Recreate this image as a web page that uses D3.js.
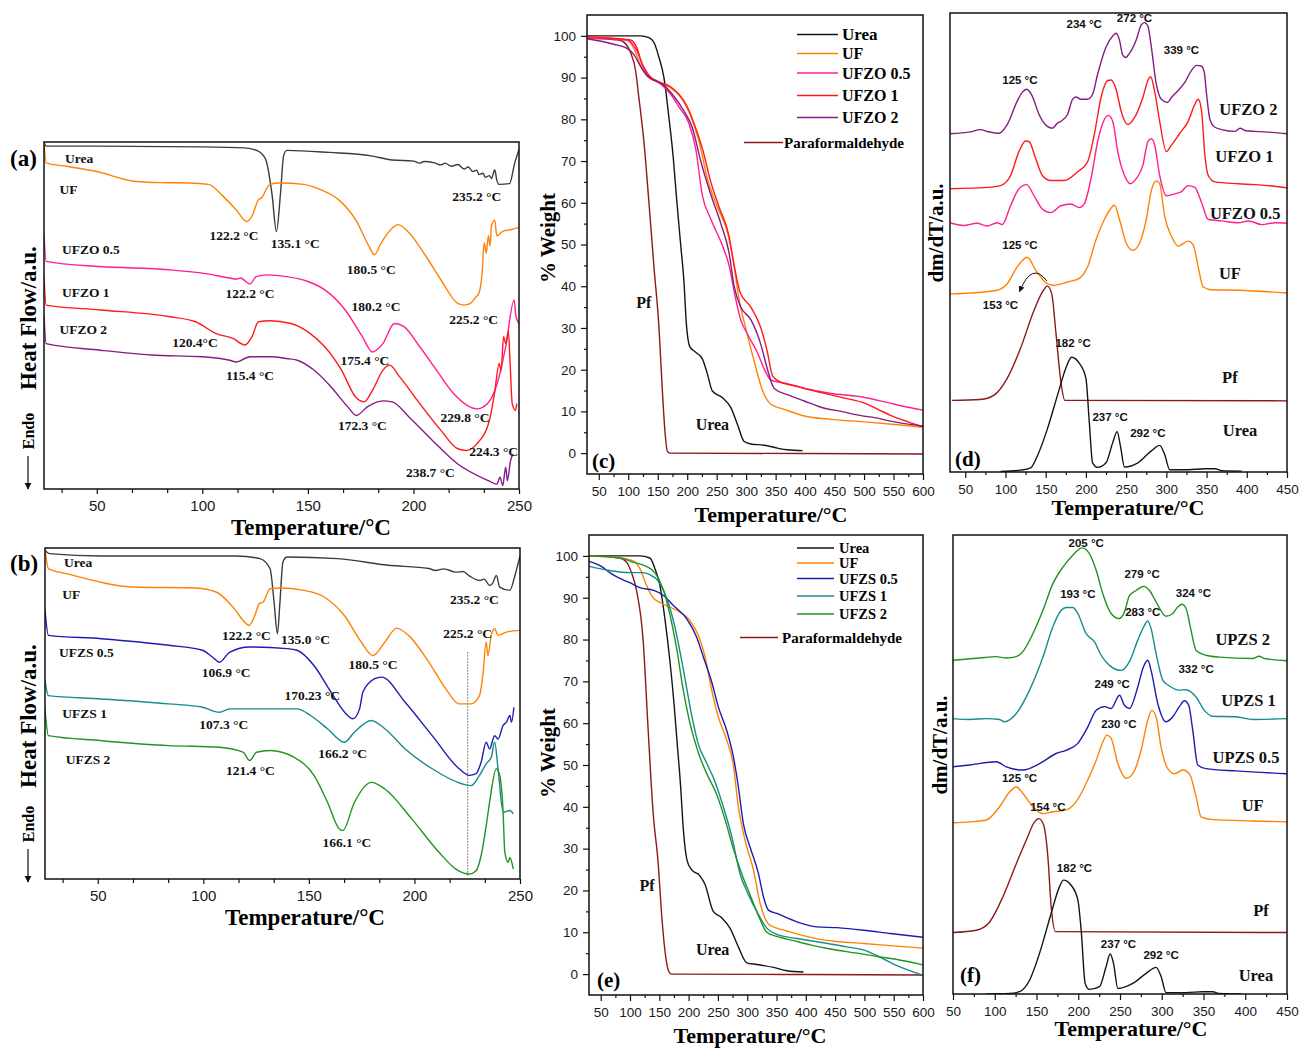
<!DOCTYPE html>
<html>
<head>
<meta charset="utf-8">
<script src="https://cdn.jsdelivr.net/npm/d3@7"></script>
<style>
  body { margin: 0; background: #fff; }
  svg { display: block; }
</style>
</head>
<body>
<script>
// ---------------- DSC (a): temperature (°C), heat flow (a.u.) ----------------
const a_urea = [[25,100],[26,98.8],[50,98.8],[100,98.6],[120,98.3],[126,97.5],[130,95],[133,85],[135.1,74.2],[137,85],[138.5,96],[140,97.6],[160,97],[180,96],[190,94.8],[200,94.5],[203,93.9],[205,94.4],[210,94],[213,93.4],[215,93.9],[218,93],[221,93.5],[224,92.2],[226,92.8],[228,91.5],[230,91.9],[231,90.6],[233,91],[234,89.8],[236,90.3],[237,89.5],[238.5,92],[239.5,89],[240.5,87.8],[245.5,88],[248,94],[250,97.9]];
const a_uf = [[25,100],[26,94],[35.5,93],[50,91.5],[67.7,88.7],[80,88.3],[93.5,88.2],[103,87.8],[109.7,84.4],[116,80.5],[121,77.1],[123.5,78.6],[126.6,83.4],[128,83.9],[132,87.8],[137,88.2],[148,87.8],[156,86.3],[164.5,83.4],[172.6,77.6],[179,69.9],[181.5,67.5],[184.7,70.9],[190,75.2],[192.7,76.2],[198,73.8],[206,67],[213,60.3],[221,53.5],[224,53],[227,53.5],[229.7,55.4],[231,56.4],[232.5,62],[233.5,71],[234.5,68],[235.5,73],[236.3,70],[237,76],[238.5,77.5],[239.5,73],[242.7,74.4],[246,74.7],[250,75.4]];
const a_ufzo05 = [[25,73.3],[26,65.6],[51.6,64.1],[84,63.2],[100,62.2],[113,60.8],[116,60.5],[118,60.8],[122.6,59.1],[125.5,61.2],[130.6,61.7],[140,61.2],[150,59.8],[158,57.4],[167.7,51.6],[175.8,43.9],[180.6,39.5],[185.5,41.9],[191,47.7],[195.5,46.8],[203,41],[211,34.2],[219,27.5],[230,23.1],[235,24.6],[239.7,30.4],[243.7,41],[247.7,54.5],[248.5,50],[250,47.7]];
const a_ufzo1 = [[25,61.2],[26,53],[51.6,51.6],[84,49.7],[96.8,48.2],[106.5,44.8],[114.5,43.4],[120.2,41.5],[123.5,43.9],[126.6,48.2],[132,48.5],[142,47.7],[150,45.3],[158,41],[166,34.2],[172.6,26.5],[176.6,25.1],[180.6,28.4],[185.5,34.2],[188.7,35.7],[193.5,32.3],[203,24.6],[213,16.9],[221,11.6],[225,11.1],[230,13],[236,19.8],[238.5,28],[240.6,36.2],[241.5,34],[242.7,43.9],[243.7,41.9],[245,45.3],[245.8,36],[246.8,24.6],[248.3,22.7],[249,24.6]];
const a_ufzo2 = [[25,50.1],[26,41.9],[51.6,40],[75.8,38.6],[100,38.1],[113,37.1],[116,36.6],[122.6,38.1],[132,38.1],[140,37.6],[145,37.1],[153,34.2],[161,29.4],[169,23.6],[173,21.2],[178,23.6],[185.5,25.4],[190,25.1],[198,20.7],[209,14],[221,7.2],[235.5,2.4],[239.5,1.4],[241,3.4],[242.3,1],[243.7,6.3],[244.5,2.4],[246,8.2],[247.3,10.1]];

// ---------------- DSC (b) ----------------
const b_urea = [[25,99.3],[27,98.3],[51.6,97.6],[115.6,97.6],[126.8,96.8],[131.6,93.8],[133.5,83.7],[135.1,74.1],[136.3,83.7],[137.7,95.8],[139.6,97.3],[163.6,96.8],[187.6,94.8],[206.8,93.8],[210,93.2],[214,93.7],[219.6,92.7],[223,92.9],[226,91.6],[230.8,90.2],[233,90.6],[235.6,88.7],[237,89.3],[238.8,91.7],[240.4,88.2],[245.2,87.2],[247.6,91.7],[250,97.6]];
const b_uf = [[25,99.8],[26.6,93.8],[35.6,92.2],[67.6,88.2],[96.4,87.9],[106,86.7],[114,82.2],[120.4,77.1],[121.7,76.6],[124.4,79.6],[126.5,83.2],[128.4,83.7],[131.6,87.7],[136.4,87.9],[147.6,87.2],[157.2,85.2],[166.8,79.6],[174.8,71.6],[180.4,67.5],[186,71.6],[191.6,75.8],[197.2,73.6],[206.8,65.5],[214.8,57.5],[221.2,52.9],[226.8,52.9],[230.8,55.4],[232.4,61.5],[234,71.6],[234.8,67.5],[236.4,73.6],[238,75.6],[239.6,73.6],[243.6,74.6],[250,75.1]];
const b_ufzs05 = [[25,81.2],[26.6,73.6],[51.6,72.6],[83.6,70.6],[99.6,69.1],[104.4,67],[107.6,65.5],[112.4,68.5],[122,70.1],[139.6,69.6],[144.4,69.1],[152.4,64.5],[160.4,56.5],[168.4,49.4],[170.8,48.4],[174,51.4],[175.6,56.5],[181.2,60.5],[184.4,61],[195.6,53.4],[208.4,43.3],[221.2,33.3],[226,31.3],[229.2,31.8],[231.6,35.3],[234,41.3],[235.6,39.3],[238,43.3],[239.6,42.3],[242,46.4],[243.6,47.4],[245.2,49.4],[246,47.4],[247.1,51.9]];
const b_ufzs1 = [[25,60],[26.6,55.4],[51.6,54.4],[83.6,52.9],[99.6,51.9],[107.6,50.4],[112.4,51.4],[144.4,51.4],[150.8,49.4],[158.8,45.4],[166.8,41.3],[171.6,44.4],[179.6,47.9],[186,45.4],[195.6,39.3],[208.4,33.3],[222.8,28.7],[226.8,28.2],[230.8,31.3],[234,34.8],[236.4,36.8],[238,41.3],[239.6,33.3],[242,20.2],[245.2,20.7],[246.8,19.7]];
const b_ufzs2 = [[25,51.4],[26.6,43.3],[51.6,41.8],[83.6,40.3],[107.6,39.8],[118.8,38.3],[122,35.8],[125.2,38.3],[131.6,38.8],[142.8,36.8],[152.4,31.3],[158.8,23.2],[164.4,15.1],[166,14.6],[171.6,23.2],[179.6,29.2],[186,27.2],[198.8,18.1],[211.6,8.1],[219.6,3],[226,1.5],[229.2,2.5],[231.6,7.1],[234,16.1],[235.6,23.2],[238.8,33.3],[240.4,31.3],[242,20.2],[242.8,8.1],[244.4,5],[245.2,6.5],[246.8,3]];

// ---------------- TGA (c): % weight ----------------
const c_urea = [[30,100],[120.9,100],[135,99.6],[145,98],[152,94.9],[160.5,90],[169,80.4],[176.4,70.7],[182,61],[188.9,50],[194.6,40.8],[198.5,31.1],[204.8,25.4],[214.4,24.2],[225.7,22.6],[234.2,19],[242.7,14.9],[259.8,13.3],[274,10.9],[285,7],[296.6,2.8],[308,2.2],[330.6,1.9],[353,1.2],[370,0.8],[395.8,0.6]];
const c_pf = [[30,99.5],[84,99],[92.5,98.5],[103.9,96],[112.4,91.7],[118,85.2],[126.5,74.7],[135,60.2],[143.5,44.8],[152,30.3],[157.7,15.3],[162.2,5.3],[166.2,0.5],[170.7,0],[400,-0.1],[600,-0.2]];
const c_uf = [[30,99.8],[98,99],[109.5,97],[120.9,92.9],[132,90.5],[149,89],[171.9,87.5],[191.7,84.8],[205.9,80.8],[220,74.7],[234.2,65.8],[251.2,59],[268.3,52.9],[279.6,44.8],[288,36.8],[299.4,29.9],[313.6,22],[327.8,15],[342,11.7],[364.6,10.5],[398.6,8.9],[444,8.1],[500.7,7.5],[557.4,6.8],[600,6.2]];
const c_ufzo05 = [[30,99.5],[98,99],[112.4,97],[126.5,92.5],[138,90],[155,88.5],[172,86],[186,83],[203,79],[214.4,73],[225.7,61.8],[240,56.1],[259.8,49.7],[271,45],[280.7,38],[290.9,31.9],[302.3,28.5],[319.3,24],[330.6,20.2],[342,17.5],[364.6,16.8],[404.3,15.3],[444,14.3],[495,13.5],[540.4,12.1],[574.4,11],[600,10.3]];
const c_ufzo1 = [[30,99.8],[103.9,99],[115,97],[123.7,93],[135,90.5],[152,89],[171.9,87.8],[186,86],[200.2,83],[211.6,79],[225.7,73],[240,65],[254,59],[271,52],[279.6,45],[289.8,38.5],[308,35],[325,30],[336.3,24],[344.8,18.5],[359,17],[387.3,16],[427,14.5],[466.7,13.2],[500.7,12],[523.4,10.5],[546,9],[574.4,7.5],[600,6.3]];
const c_ufzo2 = [[30,99.3],[75.5,98],[98,97],[109.5,95.5],[123.7,92],[135,90],[157.7,88.5],[174.7,86],[194.6,82],[208.7,78],[222.9,70],[240,62],[257,55],[271,48],[279.6,40],[290.9,35],[308,32],[325,26],[336.3,20],[347.6,15.5],[370,14],[398.6,12.5],[427,11],[461,10],[495,9],[517.7,8.5],[551.7,7.5],[600,6.5]];

// ---------------- TGA (e) ----------------
const e_urea = [[30,100],[116.7,100],[133.8,99.5],[142.4,97],[150.9,93],[159.5,85],[168,75],[174.9,65],[180.6,55],[186.3,45],[190.8,35],[197.7,27],[205,25],[219.3,23.5],[227.9,21.5],[242.1,15],[256.4,13.5],[270.6,11],[284.9,6.5],[299.1,2.7],[316.2,2.3],[344.8,1.6],[367.6,0.8],[396,0.5]];
const e_pf = [[30,100],[82.5,99.5],[93.9,98.5],[102.5,96],[111,91.8],[122.4,79.8],[131,58.3],[139.5,38.4],[148.1,26.5],[153.8,14.5],[159.5,5.7],[165.2,1],[170.9,0],[400,-0.1],[600,-0.2]];
const e_uf = [[30,100],[82.5,99.5],[105.3,98.8],[116.7,97],[128.1,93],[139.5,90],[156.6,88.5],[179.4,87],[202.2,84.5],[216.5,81],[227.9,76],[239.3,68],[250.7,61.5],[264.9,56],[276.3,50],[284.9,40],[296.3,32],[310.5,25],[321.9,17],[336.2,12],[350.5,11],[367.6,10.3],[396,9.2],[424.6,8.3],[453,7.8],[498.7,7.3],[544.3,6.8],[600,6.2]];
const e_ufzs05 = [[30,98.7],[51.1,97.5],[65.4,96],[82.5,94.6],[99.6,93.6],[116.7,92.4],[139.5,91.8],[156.6,90.6],[173.7,88.2],[196.5,85],[213.6,80.6],[225,75.9],[239.3,69.9],[250.7,63.9],[264.9,58.3],[276.3,52],[284.9,44.8],[293.4,36],[304.8,30.4],[319.1,24.1],[327.7,18.5],[336.2,15.3],[350.5,14.5],[384.7,12.5],[418.9,11.3],[453.1,11.1],[498.7,10.5],[544.3,9.7],[600,8.8]];
const e_ufzs1 = [[30,97.5],[65.4,96.5],[99.6,96],[122.4,96],[133.8,95.5],[148.1,94],[162.3,90],[176.6,83],[190.8,73],[205.1,62],[216.5,55],[230.7,50.5],[245,46],[259.2,40],[273.5,33],[287.7,24],[302,19],[316.2,15],[333.4,11],[350.5,9.5],[384.7,8.5],[430.3,7.5],[470.2,6.5],[504.4,5.5],[527.2,4],[555.7,2],[600,-0.3]];
const e_ufzs2 = [[30,100],[82.5,99.5],[105.3,98.5],[128.1,97.5],[142.4,96],[156.6,92],[168,86],[179.4,78],[190.8,68],[202.2,60],[216.5,53],[230.7,48],[247.8,43],[262.1,37],[276.3,30],[290.6,24],[304.8,19],[319.1,14],[333.4,10],[350.5,9],[379,8],[407.5,7],[441.7,6],[487.3,5],[521.5,4.2],[555.7,3.5],[600,2.2]];

// ---------------- DTG (d): dm/dT (a.u.) ----------------
const d_ufzo2 = [[31.3,73.7],[56.3,74.1],[68.8,74.6],[77.1,74.2],[91.7,73.8],[102.1,75.7],[114.6,80.8],[120.8,82.7],[126.3,83.4],[133.3,81.9],[141.7,77.9],[152.1,75.3],[158.3,74.9],[164.6,76],[168.8,76.4],[177.1,77.9],[183.3,81.2],[187.5,81.7],[193.8,81.2],[202.1,81.2],[208.3,82.3],[214.6,86.7],[225,92.6],[233.3,95],[237.5,95.6],[241.7,94.1],[245.8,90.8],[249.2,90.3],[254.2,91.2],[262.5,94.1],[268.8,97.4],[272.9,97.9],[277.1,97.1],[281.3,92.6],[287.5,84.5],[293.8,81.2],[301.3,80.5],[306.3,81.6],[314.6,83.1],[322.9,84.9],[331.3,87.5],[337.5,88.6],[343.8,88.4],[347.1,87.1],[350,82.3],[354.2,76.8],[360.4,75.1],[368.8,74.6],[385.4,74.2],[391.7,74.9],[397.9,74.4],[410.4,74.2],[431.3,74],[450,73.7]];
const d_ufzo1 = [[31.3,61.7],[77.1,62],[93.8,62.4],[106.3,64.6],[116.7,69.8],[125,72.1],[129.2,72],[137.5,68.3],[145.8,64.6],[156.3,63.5],[172.9,63.5],[189.6,65.4],[202.1,67.6],[210.4,73.5],[218.8,81.6],[227.1,85.3],[231.3,85.4],[237.5,83.4],[243.8,78.6],[252.1,75.7],[260.4,77.2],[270.8,81.6],[277.1,85.3],[280.4,86.1],[285.4,83],[291.7,76.4],[300,69.8],[306.3,71.2],[316.7,73.8],[327.1,76.4],[335.4,80.1],[339.6,81.2],[343.8,78.6],[347.9,69],[352.1,64.6],[360.4,63.2],[389.6,62.8],[410.4,62.6],[431.3,62.3],[450,61.9]];
const d_ufzo05 = [[31.3,54.3],[47.9,53.7],[64.6,54.2],[77.1,53.6],[89.6,54.3],[95.8,53.9],[106.3,58],[116.7,61.7],[126.3,62.6],[135.4,60.2],[145.8,57.3],[156.3,56.5],[168.8,58],[181.3,58.4],[191.7,57.6],[197.9,58.4],[206.3,63.9],[214.6,72],[222.9,76.8],[227.9,77.7],[233.3,76.4],[239.6,69.8],[247.9,64.6],[255.4,62.8],[262.5,63.9],[270.8,66.8],[277.1,72],[281.3,72.6],[285.4,71.3],[291.7,64.6],[300,60.2],[310.4,60.6],[318.8,61.1],[327.1,62.4],[335.4,62],[343.8,58.7],[352.1,55],[368.8,54.7],[389.6,54.3],[402.1,54.7],[418.8,53.9],[435.4,54.3],[450,54.2]];
const d_uf = [[31.3,38.8],[56.3,39],[89.6,39.6],[102.1,41],[114.6,44.7],[127.1,46.8],[137.5,44],[152.1,41],[160.4,40.7],[177.1,41.4],[191.7,42.2],[202.1,44.7],[212.5,50.6],[222.9,55],[230.4,57.3],[235.4,58.1],[241.7,55],[250,49.9],[258.3,48.3],[266.7,49.9],[275,55],[281.3,61.3],[287.5,63.4],[291.7,62.8],[297.9,55.7],[306.3,51.4],[314.6,49.2],[327.1,50.3],[333.3,49.5],[339.6,44.7],[345.8,40.3],[356.3,39.7],[389.6,39.6],[450,39]];
const d_pf = [[33.3,15.6],[68.8,15.8],[85.4,16.7],[102.1,20.4],[118.8,27],[135.4,35.2],[145.8,39.2],[152.1,40.5],[157.5,38.8],[162.5,30.7],[168.8,19.7],[173.8,15.6],[450,15.5]];
const d_urea = [[93.8,0.1],[118.8,0.4],[131.3,0.9],[139.6,3.5],[152.1,9.4],[164.6,16.7],[175,22.6],[182.1,25],[191.7,23.7],[200,20.4],[204.2,10.8],[208.3,2],[214.6,1],[225,2],[233.3,6.4],[238.8,8.8],[242.9,5.7],[247.9,1.1],[264.6,2],[281.3,4.6],[291.7,5.8],[297.9,3.8],[304.2,0.5],[327.1,0.5],[347.9,0.7],[360.4,0.7],[368.8,0.3],[393.8,0.2]];

// ---------------- DTG (f) ----------------
const f_upzs2 = [[50,72.7],[81.9,73.2],[101.8,73.5],[113.8,73.2],[125.8,73.5],[133.7,74.6],[145.7,78.5],[157.7,83.6],[169.6,89.4],[181.6,93],[193.5,95.6],[204.7,97.2],[213.5,95.9],[221.5,92.3],[229.4,87.2],[239.4,82.9],[248.6,81.8],[255.3,83.2],[261.3,86.8],[269.3,87.9],[278.1,88.8],[285.3,87.9],[293.3,85.4],[305.2,82.3],[313.2,82.9],[319.1,84.3],[324.3,84.9],[329.1,84],[335.1,79.2],[341.1,74.9],[353,73.8],[369,73.4],[408.9,73.1],[416.8,73.6],[422.8,73.1],[450,72.6]];
const f_upzs1 = [[50,60],[69.9,59.8],[89.9,60],[105.8,59.8],[111.8,59.3],[125.8,61.1],[141.7,66.2],[157.7,73.4],[169.6,80],[179.6,83.6],[185.6,84.2],[193.5,84.2],[199.5,82.9],[209.5,78.5],[219.5,76.7],[227.4,73.8],[237.4,71.6],[251.4,70.5],[261.3,72.4],[271.3,77.1],[279.3,80.3],[283.3,81.3],[287.2,79.6],[293.2,74.2],[301.2,68.4],[309.2,67.1],[321.1,66.2],[329.1,66.3],[341.1,64.7],[351,61.8],[361,60.5],[388.9,60.4],[408.9,59.8],[450,60]];
const f_upzs05 = [[50,49.5],[69.9,49.9],[101.8,50.6],[113.8,49.5],[133.7,48.8],[153.7,50.2],[173.6,52.4],[185.6,53.1],[199.5,54.6],[211.5,58.2],[221.5,61.8],[231.5,62.6],[239.4,62.2],[249.4,65.1],[255.3,62.9],[261.3,62.2],[271.3,66.9],[278.1,71.3],[283.3,72.7],[287.2,70.5],[295.2,63.3],[305.2,59.3],[313.2,60.4],[321.1,62.6],[327.1,63.9],[332.3,62.9],[337.1,57.5],[343.1,49.9],[353,49.1],[388.9,48.6],[450,48]];
const f_uf = [[50,37.3],[69.9,37.5],[89.9,37.9],[105.8,40.8],[117.8,44],[125.8,45.1],[133.7,43.7],[145.7,40.8],[157.7,39.3],[169.6,39.7],[185.6,40.1],[197.6,41.9],[209.5,45.9],[221.5,50.9],[229.4,54.9],[234.2,56.4],[239.4,55.7],[247.4,50.2],[257.3,47],[265.3,48],[275.3,53.1],[283.3,59.7],[288,61.8],[293.2,60.4],[299.2,53.8],[307.2,49.1],[315.2,48],[325.1,48.8],[333.1,48],[341.1,43],[347.1,38.6],[361,38],[408.9,37.7],[450,37.5]];
const f_pf = [[50,13.4],[77.9,13.9],[93.9,15.7],[109.8,21.2],[125.8,28.4],[137.7,33.5],[147.7,37.5],[152.9,38.2],[158.5,36.8],[163.6,29.9],[167.6,19],[172.8,13.6],[450,13.4]];
const f_urea = [[89.9,0],[117.8,0.1],[129.7,0.5],[141.7,3],[153.7,8.9],[167.6,17.6],[177.6,23.4],[182.4,24.8],[191.5,23.7],[199.5,20.5],[203.5,13.9],[208.3,2.3],[213.5,1],[225.4,1.6],[233.4,6],[238.2,8.7],[242.2,6.7],[247.4,1.2],[265.3,2.3],[281.3,4.5],[293.2,5.8],[299.2,3.8],[305.2,0.3],[329.1,0.3],[349,0.5],[361,0.5],[369,0.1],[394.9,0]];

// ---------------- annotations [text, temperature, value] ----------------
const a_names = [["Urea",35,95.2],["UF",32.3,86.3],["UFZO 0.5",33.5,69.1],["UFZO 1",33.5,56.6],["UFZO 2",32.3,46]];
const a_temps = [["122.2 °C",115,73],["135.1 °C",144,70.7],["180.5 °C",180,63.2],["235.2 °C",230,84.4],["122.2 °C",122.6,56.4],["180.2 °C",182.3,52.6],["225.2 °C",228.5,48.9],["120.4°C",96.5,42.3],["175.4 °C",177,37.1],["229.8 °C",224.4,20.7],["224.3 °C",238,10.7],["115.4 °C",122.6,32.8],["172.3 °C",175.8,18.3],["238.7 °C",208,4.8]];
const b_names = [["Urea",34,95.6],["UF",33.2,85.9],["UFZS 0.5",31.6,68.3],["UFZS 1",33.2,49.9],["UFZS 2",34.8,36]];
const b_temps = [["235.2 °C",228.4,84.5],["122.2 °C",120.4,73.6],["135.0 °C",148.4,72.4],["225.2 °C",225.2,74.3],["106.9 °C",110.8,62.5],["180.5 °C",180.4,64.7],["170.23 °C",151.6,55.4],["107.3 °C",109.7,46.6],["166.2 °C",166,37.8],["121.4 °C",122.3,32.7],["166.1 °C",168,11.1]];
const c_names = [["Pf",126.5,36.2],["Urea",242.7,6.9]];
const e_names = [["Pf",129.2,21.3],["Urea",241,6]];
const d_temps = [["234 °C",197.9,97.6],["272 °C",260.4,98.9],["339 °C",318.8,91.9],["125 °C",117.9,85.5],["125 °C",117.9,49.5],["153 °C",93.8,36.3],["182 °C",184,28.2],["237 °C",230,11.9],["292 °C",277,8.6]];
const d_names = [["UFZO 2",402,79],["UFZO 1",397,68.8],["UFZO 0.5",398,56.4],["UF",379,43.3],["Pf",379,20.6],["Urea",391.7,9]];
const f_temps = [["205 °C",209.5,98.3],["279 °C",276.5,91.4],["324 °C",337.9,87.4],["193 °C",199.5,87.2],["283 °C",277.3,83.2],["332 °C",341.1,70.7],["249 °C",240.6,67.5],["230 °C",248.6,58.8],["125 °C",129.7,47],["154 °C",163.6,40.8],["182 °C",195.5,27.4],["237 °C",248.2,11],["292 °C",299.2,8.6]];
const f_names = [["UPZS 2",396.9,77.2],["UPZS 1",404,64],["UPZS 0.5",400.9,51.5],["UF",408.9,41.1],["Pf",418.8,18.3],["Urea",412.8,4]];

// tick values
const dscMajor = [50, 100, 150, 200, 250];
const dscMinor = d3.range(2, 15).filter(k => k % 3 !== 0).map(k => k * 50 / 3);
const tgaMajorX = d3.range(50, 601, 50), tgaMinorX = d3.range(75, 600, 50);
const tgaMajorY = d3.range(0, 101, 10), tgaMinorY = d3.range(5, 100, 10);
const dtgMajor = d3.range(50, 451, 50), dtgMinor = d3.range(75, 450, 50);

//==============================================================================

const col = {
  urea: "#3c3c3c", black: "#151515", uf: "#ff8205", ufzo05: "#ff1f8f", ufzo1: "#ff1a1a",
  ufzo2: "#851c85", pf: "#8b1a1a", ufzs05: "#1c1cae", ufzs1: "#178c8c", ufzs2: "#229322"
};
const serif = "'Liberation Serif','Times New Roman',serif";
const sans = "'Liberation Sans',Arial,sans-serif";

const svg = d3.select("body").append("svg")
  .attr("width", 1302).attr("height", 1049)
  .attr("font-family", serif);

const defs = svg.append("defs");
defs.append("marker").attr("id", "arrow")
  .attr("viewBox", "0 0 10 10").attr("refX", 9).attr("refY", 5)
  .attr("markerWidth", 6).attr("markerHeight", 6).attr("orient", "auto-start-reverse")
  .append("path").attr("d", "M0,0 L10,5 L0,10 z").attr("fill", "#111");

function panel(p) {
  const x = d3.scaleLinear().domain(p.xDomain).range([p.left, p.right]);
  const y = d3.scaleLinear().domain(p.yDomain).range([p.bottom, p.top]);
  const g = svg.append("g");

  defs.append("clipPath").attr("id", "clip-" + p.id)
    .append("rect").attr("x", p.left).attr("y", p.top)
    .attr("width", p.right - p.left).attr("height", p.bottom - p.top);

  const line = d3.line().x(d => x(d[0])).y(d => y(d[1])).curve(d3.curveMonotoneX);
  const plot = g.append("g").attr("clip-path", `url(#clip-${p.id})`);

  if (p.vline) {
    plot.append("line")
      .attr("x1", x(p.vline[0])).attr("x2", x(p.vline[0]))
      .attr("y1", y(p.vline[1])).attr("y2", y(p.vline[2]))
      .attr("stroke", "#666").attr("stroke-width", 1).attr("stroke-dasharray", "1.5,1.5");
  }

  p.series.forEach(s => {
    plot.append("path").datum(s.data)
      .attr("fill", "none").attr("stroke", s.color)
      .attr("stroke-width", 1.4).attr("stroke-linejoin", "round")
      .attr("d", line);
  });

  // x axis
  const xa = g.append("g").attr("transform", `translate(0,${p.bottom})`);
  xa.append("g").call(d3.axisBottom(x).tickValues(p.xMinor).tickFormat("").tickSize(p.minorLen).tickSizeOuter(0));
  xa.append("g").call(d3.axisBottom(x).tickValues(p.xMajor).tickFormat(d3.format("d"))
    .tickSize(p.majorLen).tickSizeOuter(0).tickPadding(p.pad));
  xa.selectAll(".domain").remove();
  xa.selectAll("text").attr("fill", "#1a1a1a").attr("font-family", sans).attr("font-size", p.tickFont);
  xa.selectAll("line").attr("stroke", "#111").attr("stroke-width", 1.2);

  if (p.yMajor) {
    const ya = g.append("g").attr("transform", `translate(${p.left},0)`);
    ya.append("g").call(d3.axisLeft(y).tickValues(p.yMinor).tickFormat("").tickSize(3).tickSizeOuter(0));
    ya.append("g").call(d3.axisLeft(y).tickValues(p.yMajor).tickFormat(d3.format("d"))
      .tickSize(6).tickSizeOuter(0).tickPadding(5));
    ya.selectAll(".domain").remove();
    ya.selectAll("text").attr("fill", "#1a1a1a").attr("font-family", sans).attr("font-size", p.tickFont);
    ya.selectAll("line").attr("stroke", "#111").attr("stroke-width", 1.2);
  }

  // frame
  g.append("rect").attr("x", p.left).attr("y", p.top)
    .attr("width", p.right - p.left).attr("height", p.bottom - p.top)
    .attr("fill", "none").attr("stroke", "#111").attr("stroke-width", 1.5);

  // annotations
  (p.notes || []).forEach(n => {
    g.append("g").selectAll("text").data(n.data).join("text")
      .attr("x", d => x(d[1])).attr("y", d => y(d[2]))
      .attr("text-anchor", n.anchor).attr("dominant-baseline", "central")
      .attr("font-family", n.family).attr("font-weight", "bold")
      .attr("font-size", n.size).attr("fill", "#111")
      .text(d => d[0]);
  });

  if (p.curveArrow) {
    const [s, c, e] = p.curveArrow;
    g.append("path")
      .attr("d", `M${x(s[0])},${y(s[1])} Q${x(c[0])},${y(c[1])} ${x(e[0])},${y(e[1])}`)
      .attr("fill", "none").attr("stroke", "#111").attr("stroke-width", 1)
      .attr("marker-end", "url(#arrow)");
  }

  // axis titles
  g.append("text").attr("x", p.xTitle[0]).attr("y", p.xTitle[1])
    .attr("text-anchor", "middle").attr("font-weight", "bold")
    .attr("font-size", p.xTitle[2]).text("Temperature/°C");
  g.append("text").attr("transform", `translate(${p.yTitle[0]},${p.yTitle[1]}) rotate(-90)`)
    .attr("text-anchor", "middle").attr("dominant-baseline", "central")
    .attr("font-weight", "bold").attr("font-size", p.yTitle[2]).text(p.yTitle[3]);

  // panel letter
  g.append("text").attr("x", p.letter[0]).attr("y", p.letter[1])
    .attr("font-weight", "bold").attr("font-size", p.letter[2]).text(p.letter[3]);

  // legend
  if (p.legend) {
    p.legend.forEach(l => {
      g.append("line").attr("x1", l.x1).attr("x2", l.x2).attr("y1", l.y).attr("y2", l.y)
        .attr("stroke", l.color).attr("stroke-width", 1.6);
      g.append("text").attr("x", l.tx).attr("y", l.y).attr("dominant-baseline", "central")
        .attr("font-weight", "bold").attr("font-size", l.size).text(l.label);
    });
  }
  return { x, y };
}

function endo(cx, cy) {
  svg.append("text").attr("transform", `translate(${cx},${cy}) rotate(-90)`)
    .attr("text-anchor", "middle").attr("dominant-baseline", "central")
    .attr("font-weight", "bold").attr("font-size", 16).text("Endo");
  svg.append("line").attr("x1", cx).attr("x2", cx).attr("y1", cy + 25).attr("y2", cy + 58)
    .attr("stroke", "#111").attr("stroke-width", 1.2).attr("marker-end", "url(#arrow)");
}

const dscNotes = (names, temps) => [
  { data: names, anchor: "start", family: serif, size: 13.5 },
  { data: temps, anchor: "middle", family: serif, size: 13.5 }
];

// (a)
panel({
  id: "a", xDomain: [25, 250], yDomain: [0, 100], left: 44, right: 519, top: 142, bottom: 489,
  xMajor: dscMajor, xMinor: dscMinor, majorLen: 5, minorLen: 4, pad: 6, tickFont: 15,
  series: [
    { data: a_urea, color: col.urea }, { data: a_uf, color: col.uf },
    { data: a_ufzo05, color: col.ufzo05 }, { data: a_ufzo1, color: col.ufzo1 },
    { data: a_ufzo2, color: col.ufzo2 }
  ],
  notes: dscNotes(a_names, a_temps),
  xTitle: [311, 535, 23], yTitle: [28, 318, 23, "Heat Flow/a.u."], letter: [10, 166, 23, "(a)"]
});
endo(28, 431);

// (b)
panel({
  id: "b", xDomain: [25, 250], yDomain: [0, 100], left: 45, right: 520, top: 548, bottom: 879,
  xMajor: dscMajor, xMinor: dscMinor, majorLen: 5, minorLen: 4, pad: 6, tickFont: 15,
  vline: [225.2, 1, 69],
  series: [
    { data: b_urea, color: col.urea }, { data: b_uf, color: col.uf },
    { data: b_ufzs05, color: col.ufzs05 }, { data: b_ufzs1, color: col.ufzs1 },
    { data: b_ufzs2, color: col.ufzs2 }
  ],
  notes: dscNotes(b_names, b_temps),
  xTitle: [305, 925, 23], yTitle: [28, 716, 23, "Heat Flow/a.u."], letter: [10, 571, 23, "(b)"]
});
endo(28, 824);

const legendC = [
  { label: "Urea", color: col.black, y: 34.5, size: 17 },
  { label: "UF", color: col.uf, y: 53.5, size: 16 },
  { label: "UFZO 0.5", color: col.ufzo05, y: 73, size: 16 },
  { label: "UFZO 1", color: col.ufzo1, y: 95.5, size: 16 },
  { label: "UFZO 2", color: col.ufzo2, y: 117.5, size: 16 }
].map(l => Object.assign(l, { x1: 797, x2: 838, tx: 842 }))
 .concat([{ label: "Paraformaldehyde", color: col.pf, y: 142.5, size: 15, x1: 744, x2: 783, tx: 784 }]);

const legendE = [
  { label: "Urea", color: col.black, y: 548 },
  { label: "UF", color: col.uf, y: 563 },
  { label: "UFZS 0.5", color: col.ufzs05, y: 578.5 },
  { label: "UFZS 1", color: col.ufzs1, y: 596 },
  { label: "UFZS 2", color: col.ufzs2, y: 614 }
].map(l => Object.assign(l, { x1: 797, x2: 834, tx: 839, size: 14.5 }))
 .concat([{ label: "Paraformaldehyde", color: col.pf, y: 637.5, size: 15, x1: 740, x2: 778, tx: 782 }]);

// (c)
panel({
  id: "c", xDomain: [30, 600], yDomain: [-5, 105], left: 587, right: 923, top: 15, bottom: 474,
  xMajor: tgaMajorX, xMinor: tgaMinorX, yMajor: tgaMajorY, yMinor: tgaMinorY,
  majorLen: 6, minorLen: 3, pad: 6, tickFont: 13.5,
  series: [
    { data: c_pf, color: col.pf }, { data: c_urea, color: col.black },
    { data: c_uf, color: col.uf }, { data: c_ufzo05, color: col.ufzo05 },
    { data: c_ufzo1, color: col.ufzo1 }, { data: c_ufzo2, color: col.ufzo2 }
  ],
  notes: [{ data: c_names, anchor: "middle", family: serif, size: 16 }],
  legend: legendC,
  xTitle: [771, 522, 22], yTitle: [548, 238, 21, "% Weight"], letter: [592, 468, 21, "(c)"]
});

// (e)
panel({
  id: "e", xDomain: [30, 600], yDomain: [-5, 105], left: 589, right: 923, top: 535, bottom: 995,
  xMajor: tgaMajorX, xMinor: tgaMinorX, yMajor: tgaMajorY, yMinor: tgaMinorY,
  majorLen: 6, minorLen: 3, pad: 6, tickFont: 13.5,
  series: [
    { data: e_pf, color: col.pf }, { data: e_urea, color: col.black },
    { data: e_uf, color: col.uf }, { data: e_ufzs05, color: col.ufzs05 },
    { data: e_ufzs1, color: col.ufzs1 }, { data: e_ufzs2, color: col.ufzs2 }
  ],
  notes: [{ data: e_names, anchor: "middle", family: serif, size: 16 }],
  legend: legendE,
  xTitle: [750, 1043, 22], yTitle: [548, 753, 21, "% Weight"], letter: [597, 987, 21, "(e)"]
});

// (d)
panel({
  id: "d", xDomain: [31, 450], yDomain: [0, 100], left: 950, right: 1287, top: 13, bottom: 472,
  xMajor: dtgMajor, xMinor: dtgMinor, majorLen: 6, minorLen: 3, pad: 6, tickFont: 13.5,
  series: [
    { data: d_ufzo2, color: col.ufzo2 }, { data: d_ufzo1, color: col.ufzo1 },
    { data: d_ufzo05, color: col.ufzo05 }, { data: d_uf, color: col.uf },
    { data: d_pf, color: col.pf }, { data: d_urea, color: col.black }
  ],
  notes: [
    { data: d_temps, anchor: "middle", family: sans, size: 11.5 },
    { data: d_names, anchor: "middle", family: serif, size: 16.5 }
  ],
  curveArrow: [[151.5, 41.6], [133, 46], [117.5, 39.3]],
  xTitle: [1128, 515, 22], yTitle: [936, 233, 21, "dm/dT/a.u."], letter: [955, 466, 21, "(d)"]
});

// (f)
panel({
  id: "f", xDomain: [50, 450], yDomain: [0, 100], left: 953, right: 1287, top: 535, bottom: 994,
  xMajor: dtgMajor, xMinor: dtgMinor, majorLen: 6, minorLen: 3, pad: 6, tickFont: 13.5,
  series: [
    { data: f_upzs2, color: col.ufzs2 }, { data: f_upzs1, color: col.ufzs1 },
    { data: f_upzs05, color: col.ufzs05 }, { data: f_uf, color: col.uf },
    { data: f_pf, color: col.pf }, { data: f_urea, color: col.black }
  ],
  notes: [
    { data: f_temps, anchor: "middle", family: sans, size: 11.5 },
    { data: f_names, anchor: "middle", family: serif, size: 16.5 }
  ],
  xTitle: [1131, 1036, 22], yTitle: [940, 745, 21, "dm/dT/a.u."], letter: [960, 982, 21, "(f)"]
});
</script>
</body>
</html>
